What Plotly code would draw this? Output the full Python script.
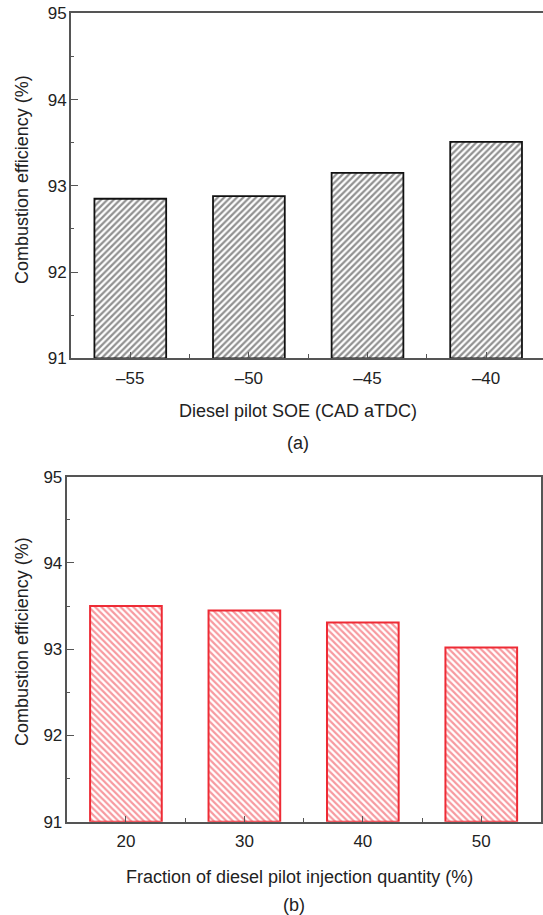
import plotly.graph_objects as go

# ---- data ----
soe_labels = ["–55", "–50", "–45", "–40"]
soe_eff = [92.85, 92.88, 93.15, 93.51]

frac_labels = ["20", "30", "40", "50"]
frac_eff = [93.50, 93.45, 93.31, 93.02]

y_ticks = [91, 92, 93, 94, 95]

W, H = 543, 915
FONT = "Arial, Liberation Sans, Helvetica, sans-serif"
AX = "#555555"
TXT = "#222222"

fig = go.Figure()

idx_a = list(range(len(soe_labels)))
idx_b = list(range(len(frac_labels)))

fig.add_trace(go.Bar(
    x=idx_a, y=[v - 91 for v in soe_eff], base=91, width=0.605,
    marker=dict(color="white",
                line=dict(color="#111111", width=1.8),
                pattern=dict(shape="/", size=4.5, solidity=0.5,
                             fgcolor="#222222", bgcolor="white")),
    xaxis="x", yaxis="y", showlegend=False, hoverinfo="skip"))

fig.add_trace(go.Bar(
    x=idx_b, y=[v - 91 for v in frac_eff], base=91, width=0.605,
    marker=dict(color="white",
                line=dict(color="#ee2b35", width=2),
                pattern=dict(shape="\\", size=4.5, solidity=0.48,
                             fgcolor="#f03440", bgcolor="white")),
    xaxis="x2", yaxis="y2", showlegend=False, hoverinfo="skip"))

def px_x(p):
    return p / W

def px_y(p):
    return 1 - p / H

tickfont = dict(family=FONT, size=17, color=TXT)

common_x = dict(showgrid=False, zeroline=False, showline=True, linecolor=AX,
                linewidth=2, ticks="inside", ticklen=6, tickwidth=1.2,
                tickcolor=AX, tickfont=tickfont, automargin=False,
                ticklabelstandoff=3,
                minor=dict(tickvals=[0.5, 1.5, 2.5], ticks="inside",
                           ticklen=4, tickwidth=1.2, tickcolor=AX))
common_y = dict(showgrid=False, zeroline=False, showline=True, linecolor=AX,
                linewidth=2, ticks="inside", ticklen=7, tickwidth=1.2,
                tickcolor=AX, tickfont=tickfont, automargin=False,
                ticklabelstandoff=-1,
                range=[91, 95], tickvals=y_ticks,
                ticktext=[str(t) for t in y_ticks],
                minor=dict(dtick=0.5, tick0=91, ticks="inside", ticklen=3,
                           tickwidth=1.2, tickcolor=AX))

fig.update_layout(
    width=W, height=H,
    margin=dict(l=0, r=0, t=0, b=0),
    paper_bgcolor="white", plot_bgcolor="white",
    xaxis=dict(**common_x, domain=[px_x(71), 1.0],
               range=[-0.5, -0.5 + (W - 71) / 118.6],
               tickvals=idx_a, ticktext=soe_labels, mirror=True,
               anchor="y"),
    yaxis=dict(**common_y, domain=[px_y(358.3), px_y(13.3)], anchor="x",
               mirror=False),
    xaxis2=dict(**common_x, domain=[px_x(66.7), px_x(540.5)],
                range=[-0.5, 3.5], tickvals=idx_b, ticktext=frac_labels,
                mirror=True, anchor="y2"),
    yaxis2=dict(**common_y, domain=[px_y(821.7), px_y(476.7)], anchor="x2",
                mirror=True),
)

tfont = dict(family=FONT, size=18, color=TXT)
annots = [
    dict(text="Diesel pilot SOE (CAD aTDC)", x=px_x(298), y=px_y(411)),
    dict(text="(a)", x=px_x(298), y=px_y(443)),
    dict(text="Combustion efficiency (%)", x=px_x(22), y=px_y(180), textangle=-90),
    dict(text="Fraction of diesel pilot injection quantity (%)", x=px_x(299.5), y=px_y(877)),
    dict(text="(b)", x=px_x(294), y=px_y(905)),
    dict(text="Combustion efficiency (%)", x=px_x(22), y=px_y(642), textangle=-90),
]
for a in annots:
    fig.add_annotation(xref="paper", yref="paper", showarrow=False,
                       xanchor="center", yanchor="middle", font=tfont, **a)

fig.write_html("out.html")
